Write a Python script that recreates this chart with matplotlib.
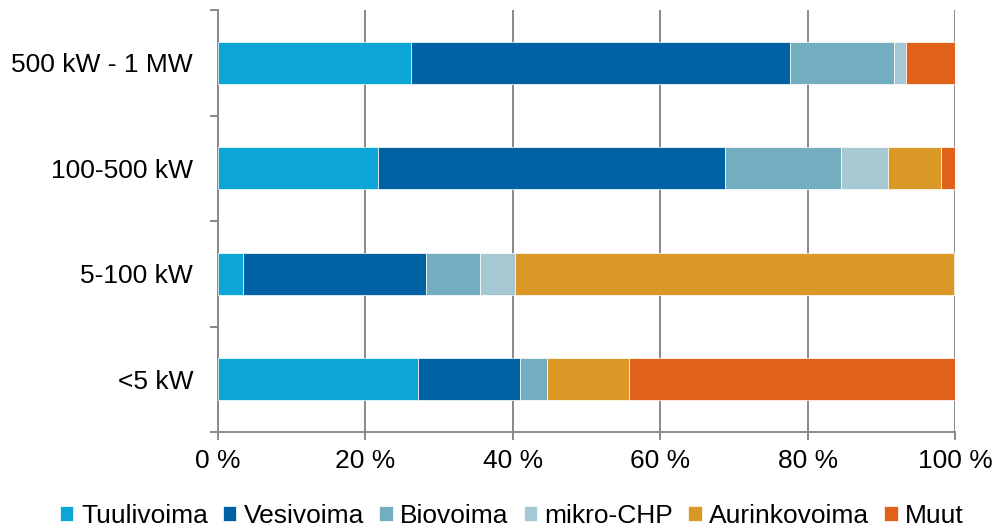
import matplotlib
matplotlib.use("Agg")
import matplotlib.pyplot as plt
import numpy as np

plt.rcParams['font.family'] = ['Liberation Sans', 'DejaVu Sans']

categories = ["<5 kW", "5-100 kW", "100-500 kW", "500 kW - 1 MW"]
series_names = ["Tuulivoima", "Vesivoima", "Biovoima", "mikro-CHP", "Aurinkovoima", "Muut"]
tuulivoima = [27.1, 3.4, 21.7, 26.2]
vesivoima = [13.9, 24.8, 47.1, 51.4]
biovoima = [3.6, 7.3, 15.7, 14.1]
mikro_chp = [0.0, 4.8, 6.4, 1.7]
aurinkovoima = [11.2, 59.6, 7.2, 0.0]
muut = [44.2, 0.1, 1.9, 6.6]
colors = ["#0BA5D6", "#0062A3", "#72ADC0", "#A6C8D3", "#DA9826", "#E0621A"]
xticklabels = ["0 %", "20 %", "40 %", "60 %", "80 %", "100 %"]

data = [tuulivoima, vesivoima, biovoima, mikro_chp, aurinkovoima, muut]

fig = plt.figure(figsize=(9.98, 5.31), dpi=100)
ax = fig.add_axes([218/998, 1-432/531, (955-218)/998, (432-10)/531])

y = np.arange(len(categories))
left = np.zeros(len(categories))
handles = []
for name, vals, c in zip(series_names, data, colors):
    vals = np.array(vals)
    b = ax.barh(y, vals, left=left, height=0.4, color=c, edgecolor='white',
                linewidth=0.5, label=name, zorder=3)
    handles.append(b)
    left += vals

gray = "#898989"
ax.set_xlim(0, 100)
ax.set_ylim(-0.5, len(categories)-0.5)
ax.set_xticks([0, 20, 40, 60, 80, 100])
ax.set_xticklabels(xticklabels)
ax.set_yticks(y)
ax.set_yticklabels(categories)
ax.set_yticks(np.arange(-0.5, len(categories), 1.0), minor=True)
ax.xaxis.grid(True, color=gray, linewidth=1.4, zorder=0)
for s in ['top', 'right']:
    ax.spines[s].set_visible(False)
for s in ['left', 'bottom']:
    ax.spines[s].set_color(gray)
    ax.spines[s].set_linewidth(1.4)
ax.tick_params(axis='x', length=6, width=1.4, color=gray, labelsize=19, pad=6)
ax.tick_params(axis='y', which='major', length=0, labelsize=19, pad=18)
ax.tick_params(axis='y', which='minor', length=6, width=1.4, color=gray)

fig.legend(handles=handles, labels=series_names, loc='center',
           bbox_to_anchor=(512/998, 1-516/531), ncol=6, frameon=False,
           fontsize=19, handlelength=0.5, handleheight=0.5,
           handletextpad=0.28, columnspacing=0.58, borderaxespad=0, borderpad=0)

fig.savefig("out.png", dpi=100)
